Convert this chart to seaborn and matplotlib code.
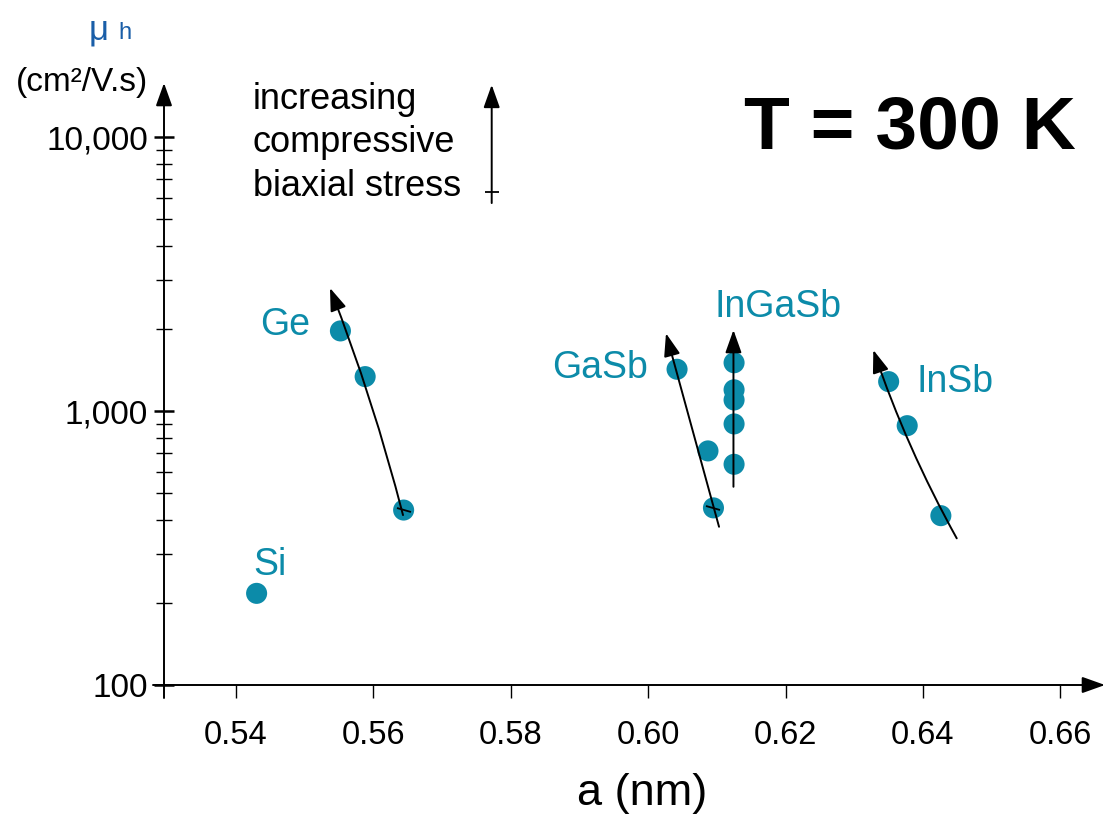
import numpy as np
import pandas as pd
import matplotlib
matplotlib.use("Agg")
import matplotlib.pyplot as plt
from matplotlib.markers import MarkerStyle
from matplotlib.transforms import Affine2D
from matplotlib.ticker import FixedLocator, LogLocator, NullFormatter
import seaborn as sns

# ---------------- data ----------------
si_a = [0.5430]
si_mu = [216]
ge_a = [0.5552, 0.5588, 0.5644]
ge_mu = [1960, 1335, 435]
gasb_a = [0.6042, 0.6087, 0.6095]
gasb_mu = [1420, 715, 443]
ingasb_a = [0.6125, 0.6125, 0.6125, 0.6125, 0.6125]
ingasb_mu = [1500, 1195, 1097, 897, 639]
insb_a = [0.6350, 0.6377, 0.6426]
insb_mu = [1280, 884, 415]

materials = ["Si", "Ge", "GaSb", "InGaSb", "InSb"]
label_a = [0.5450, 0.5471, 0.5930, 0.6189, 0.6447]
label_mu = [274, 2061, 1436, 2397, 1279]

# trend arrows: base (a, mu) -> tip (a, mu)
trend_names = ["Ge", "GaSb", "InGaSb", "InSb"]
trend_base_a = [0.56431, 0.61031, 0.61241, 0.64491]
trend_base_mu = [417, 378, 529, 343]
trend_tip_a = [0.55368, 0.60259, 0.61241, 0.63277]
trend_tip_mu = [2812, 1921, 1975, 1670]
trend_rad = [0.03, 0.0, 0.0, -0.045]

# key arrow "increasing compressive biaxial stress"
key_a = 0.57722
key_mu = [5740, 15500]
key_cross_mu = 6316

x_ticks = [0.54, 0.56, 0.58, 0.60, 0.62, 0.64, 0.66]
x_ticklabels = ["0.54", "0.56", "0.58", "0.60", "0.62", "0.64", "0.66"]
y_ticks = [100, 1000, 10000]
y_ticklabels = ["100", "1,000", "10,000"]

# ---------------- style ----------------
sns.set_style("white")
plt.rcParams["font.family"] = ["Liberation Sans", "DejaVu Sans"]

TEAL = "#0C8BA9"
BLUE = "#1A5EA8"

W, H = 1107, 814
fig = plt.figure(figsize=(W / 100, H / 100), dpi=100)
ax = fig.add_axes([164 / W, 129 / H, (1105 - 164) / W, (685 - 83) / H])

df = pd.DataFrame({
    "a": si_a + ge_a + gasb_a + ingasb_a + insb_a,
    "mu": si_mu + ge_mu + gasb_mu + ingasb_mu + insb_mu,
    "mat": (["Si"] * len(si_a) + ["Ge"] * len(ge_a) + ["GaSb"] * len(gasb_a)
            + ["InGaSb"] * len(ingasb_a) + ["InSb"] * len(insb_a)),
})

ax.set_yscale("log")
sns.scatterplot(data=df, x="a", y="mu", color=TEAL, s=230, edgecolor="none",
                legend=False, ax=ax, zorder=2)

ax.set_xlim(0.54 - 72 / 6870, 0.54 + 869 / 6870)
ax.set_ylim(100, 10 ** (2 + 602 / 274))

for s in ax.spines.values():
    s.set_visible(False)

HEAD = "-|>,head_length=0.7,head_width=0.25"

# axis lines with arrowheads
arrow_kw = dict(arrowstyle=HEAD, color="black",
                lw=1.4, mutation_scale=20, shrinkA=0, shrinkB=0)
ax.annotate("", xy=(0, 1.0), xytext=(0, -13 / 602), xycoords="axes fraction",
            textcoords="axes fraction", arrowprops=arrow_kw, annotation_clip=False)
ax.annotate("", xy=(1.0, 0), xytext=(-11 / 941, 0), xycoords="axes fraction",
            textcoords="axes fraction", arrowprops=arrow_kw, annotation_clip=False)

# ticks
ax.xaxis.set_major_locator(FixedLocator(x_ticks))
ax.set_xticklabels(x_ticklabels)
ax.yaxis.set_major_locator(FixedLocator(y_ticks))
ax.set_yticklabels(y_ticklabels)
ax.yaxis.set_minor_locator(LogLocator(base=10, subs=np.arange(2, 10)))
ax.yaxis.set_minor_formatter(NullFormatter())
ax.tick_params(axis="x", which="major", direction="out", length=9, width=1.0,
               labelsize=23.5, pad=16, bottom=True, colors="black")
ax.tick_params(axis="y", which="major", direction="inout", length=14, width=1.8,
               labelsize=24, pad=4.5, left=True, colors="black")
ax.tick_params(axis="y", which="minor", direction="inout", length=11, width=1.0,
               left=True, colors="black")
ax.set_xlabel("")
ax.set_ylabel("")
ax.grid(False)

# trend arrows
for ba, bm, ta, tm, r in zip(trend_base_a, trend_base_mu, trend_tip_a, trend_tip_mu, trend_rad):
    ax.annotate("", xy=(ta, tm), xytext=(ba, bm),
                arrowprops=dict(arrowstyle=HEAD,
                                color="black", lw=1.4, mutation_scale=20,
                                shrinkA=0, shrinkB=0,
                                connectionstyle=f"arc3,rad={r}"), zorder=3)

# little cross marks
cross_ge = MarkerStyle("_", transform=Affine2D().rotate_deg(-18))
ax.plot([ge_a[-1]], [ge_mu[-1]], marker=cross_ge, ms=11, mew=1.3, color="black",
        ls="none", zorder=4)
cross_ga = MarkerStyle("_", transform=Affine2D().rotate_deg(-13))
ax.plot([gasb_a[-1]], [gasb_mu[-1]], marker=cross_ga, ms=11, mew=1.3, color="black",
        ls="none", zorder=4)

# key arrow
ax.annotate("", xy=(key_a, key_mu[1]), xytext=(key_a, key_mu[0]),
            arrowprops=dict(arrowstyle=HEAD,
                            color="black", lw=1.4, mutation_scale=20,
                            shrinkA=0, shrinkB=0), annotation_clip=False)
ax.plot([key_a], [key_cross_mu], marker="_", ms=10, mew=1.3, color="black",
        ls="none", clip_on=False)

# material labels
for name, la, lm in zip(materials, label_a, label_mu):
    ax.text(la, lm, name, color=TEAL, fontsize=27, ha="center", va="center")

# texts
fig.text(253 / W, 1 - 143 / H, "increasing\ncompressive\nbiaxial stress",
         fontsize=26, ha="left", va="center", linespacing=1.3, color="black")
fig.text(910 / W, 1 - 129 / H, "T = 300 K", fontsize=54, fontweight="bold",
         ha="center", va="center", color="black")
fig.text(642 / W, 1 - 793 / H, "a (nm)", fontsize=32.5, ha="center", va="center",
         color="black")
fig.text(82 / W, 1 - 82 / H, "(cm\u00b2/V.s)", fontsize=24, ha="center", va="center",
         color="black")
fig.text(99 / W, 1 - 30 / H, "\u03bc", fontsize=25, ha="center", va="center",
         color=BLUE)
fig.text(125 / W, 1 - 33 / H, "h", fontsize=17, ha="center", va="center",
         color=BLUE)

fig.savefig("out.png", dpi=100, facecolor="white")
